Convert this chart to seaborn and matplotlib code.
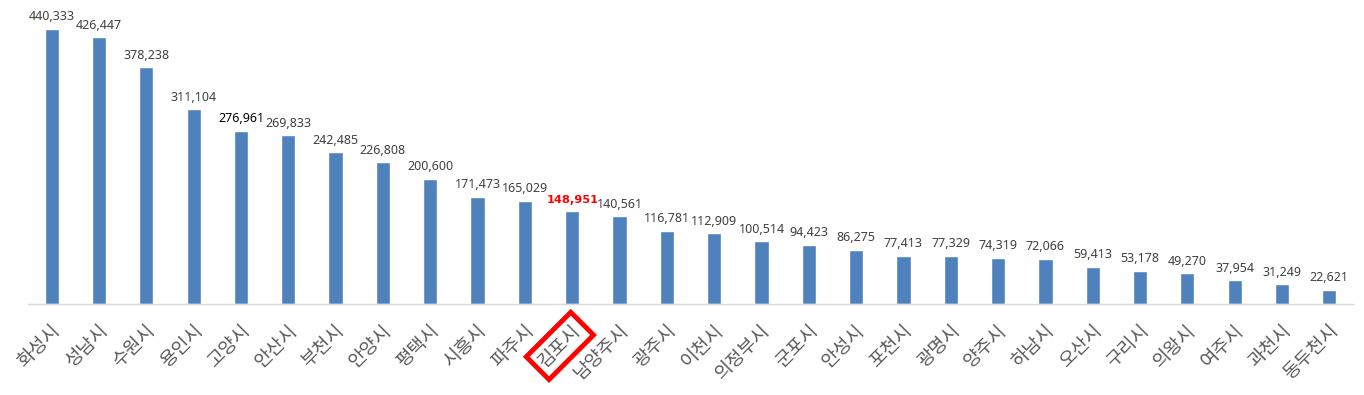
import matplotlib
matplotlib.use("Agg")
import matplotlib.pyplot as plt
import matplotlib.transforms as mtransforms
import seaborn as sns
import pandas as pd

cities = ["화성시", "성남시", "수원시", "용인시", "고양시", "안산시", "부천시", "안양시", "평택시",
          "시흥시", "파주시", "김포시", "남양주시", "광주시", "이천시", "의정부시", "군포시", "안성시",
          "포천시", "광명시", "양주시", "하남시", "오산시", "구리시", "의왕시", "여주시", "과천시", "동두천시"]
values = [440333, 426447, 378238, 311104, 276961, 269833, 242485, 226808, 200600,
          171473, 165029, 148951, 140561, 116781, 112909, 100514, 94423, 86275,
          77413, 77329, 74319, 72066, 59413, 53178, 49270, 37954, 31249, 22621]
highlight = "김포시"

sns.set_theme(style="white")
plt.rcParams['font.family'] = ['Noto Sans CJK KR', 'Noto Sans', 'DejaVu Sans']

df = pd.DataFrame({"city": cities, "value": values})

fig = plt.figure(figsize=(13.64, 3.95), dpi=100)
ax = fig.add_axes([28/1364, 91/395, (1353-28)/1364, (304-10)/395])

sns.barplot(data=df, x="city", y="value", color="#4F81BD", saturation=1, width=0.3, ax=ax)

ax.set_ylim(0, 470000)
ax.set_xlim(-0.5, len(cities) - 0.5)
ax.set_xlabel("")
ax.set_ylabel("")
ax.set_yticks([])
for s in ["top", "right", "left"]:
    ax.spines[s].set_visible(False)
ax.spines["bottom"].set_color("#D9D9D9")
ax.spines["bottom"].set_linewidth(1.0)
ax.tick_params(axis="x", length=0, pad=17)

for i, (c, v) in enumerate(zip(cities, values)):
    if c == highlight:
        ax.annotate(f"{v:,}", (i, v), xytext=(0, 4), textcoords="offset points",
                    ha="center", va="bottom", fontsize=8.2, color="#FF0000",
                    fontweight="bold", family="DejaVu Sans")
    else:
        col = "#000000" if c == "고양시" else "#404040"
        ax.annotate(f"{v:,}", (i, v), xytext=(0, 4), textcoords="offset points",
                    ha="center", va="bottom", fontsize=9, color=col,
                    family=['Noto Sans', 'DejaVu Sans'])

ax.set_xticks(range(len(cities)))
ax.set_xticklabels(cities, rotation=45, ha="right", va="center", rotation_mode="anchor",
                   fontsize=13.5, color="#595959")
shift = mtransforms.ScaledTranslation(6/100, 0, fig.dpi_scale_trans)
for lbl in ax.get_xticklabels():
    lbl.set_transform(lbl.get_transform() + shift)
    if lbl.get_text() == highlight:
        lbl.set_bbox(dict(boxstyle="square,pad=0.3", facecolor="none",
                          edgecolor="#FF0000", linewidth=3.5))

fig.savefig("out.png", dpi=100)
